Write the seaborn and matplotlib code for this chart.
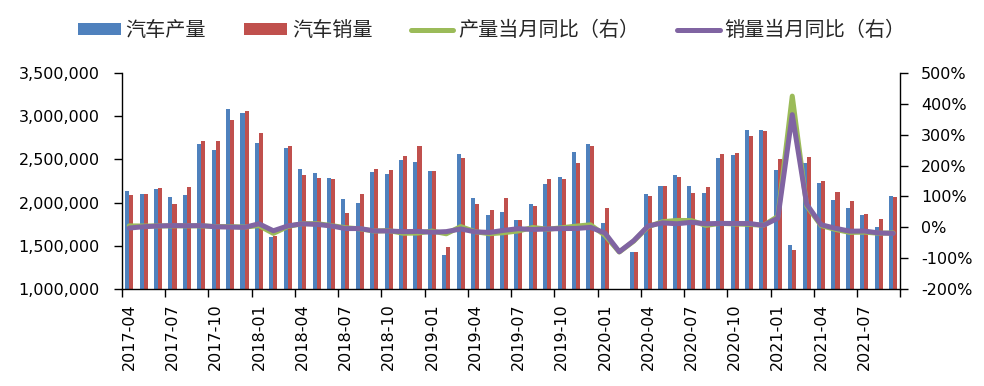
import numpy as np
import pandas as pd
import matplotlib
matplotlib.use('Agg')
import matplotlib.pyplot as plt
import seaborn as sns
from matplotlib.ticker import FuncFormatter
from matplotlib.patches import Patch
from matplotlib.lines import Line2D

# 月份 2017-04 ~ 2021-09
months = [str(p) for p in pd.period_range('2017-04', '2021-09', freq='M')]

# 汽车产量（辆）
production = [
    2138300, 2095900, 2154600, 2063700, 2093900, 2678900, 2605700, 3082900, 3038200,
    2694700, 1600000, 2626900, 2389100, 2344800, 2283300, 2038100, 1994200, 2357200, 2332300, 2491500, 2471700,
    2368100, 1394400, 2559900, 2052500, 1858600, 1890700, 1799000, 1988400, 2210500, 2301200, 2590700, 2676000,
    1761300, 285000, 1428200, 2102200, 2187100, 2324500, 2193200, 2114600, 2519700, 2556000, 2843000, 2842000,
    2383000, 1507000, 2456000, 2225000, 2027000, 1943000, 1857000, 1721000, 2077000,
]
# 汽车销量（辆）
sales = [
    2084200, 2096500, 2166400, 1978700, 2184800, 2712600, 2707500, 2958900, 3055800,
    2810300, 1610000, 2655600, 2318600, 2287600, 2274200, 1885500, 2100300, 2393800, 2380200, 2541000, 2656400,
    2365800, 1481300, 2519800, 1979400, 1913500, 2056100, 1801000, 1958000, 2271100, 2279300, 2459500, 2654600,
    1941100, 310000, 1430200, 2071900, 2191700, 2302400, 2115700, 2185800, 2565000, 2573000, 2767000, 2830000,
    2503000, 1455000, 2526000, 2252000, 2128000, 2015000, 1864000, 1806000, 2067000,
]
# 当月同比（%）
prod_yoy = [
    4.8, 4.3, 4.6, 4.8, 4.8, 4.8, 2.6, 2.4, 0.9,
    5.6, -19.6, 2.7, 11.9, 12.0, 6.0, -1.2, -4.8, -12.0, -10.5, -19.1, -18.6,
    -12.1, -20.8, 2.5, -14.1, -20.7, -17.2, -11.7, -0.3, -6.2, -1.3, 4.0, 8.3,
    -25.6, -79.8, -44.8, 2.3, 18.2, 22.5, 21.9, 6.3, 13.0, 11.0, 9.7, 6.5,
    35.3, 425.0, 69.9, 5.8, -6.8, -16.5, -15.5, -19.1, -17.9,
]
sales_yoy = [
    -2.2, 2.0, 4.5, 5.8, 5.3, 5.7, 1.8, 1.1, -0.1,
    11.6, -11.1, 4.7, 11.5, 9.6, 4.8, -4.0, -3.8, -11.6, -11.7, -13.9, -13.0,
    -15.8, -13.8, -5.2, -14.6, -16.4, -9.6, -4.3, -6.9, -5.2, -4.0, -3.6, -0.1,
    -18.0, -79.1, -43.3, 4.4, 14.5, 11.6, 16.4, 11.6, 12.8, 12.5, 12.6, 6.4,
    29.5, 365.0, 74.9, 8.6, -3.1, -12.4, -11.9, -18.1, -19.6,
]

bar_names = ['汽车产量', '汽车销量']
line_names = ['产量当月同比（右）', '销量当月同比（右）']
bar_colors = ['#4F81BD', '#C0504D']
line_colors = ['#9BBB59', '#8064A2']

n = len(months)
bar_df = pd.DataFrame({
    '月份': months * 2,
    '数量': production + sales,
    '系列': [bar_names[0]] * n + [bar_names[1]] * n,
})
line_df = pd.DataFrame({
    'pos': list(range(n)) * 2,
    '同比': prod_yoy + sales_yoy,
    '系列': [line_names[0]] * n + [line_names[1]] * n,
})

sns.set_style('white')
plt.rcParams['font.family'] = ['DejaVu Sans', 'Noto Sans CJK SC']

fig, ax = plt.subplots(figsize=(9.84, 3.86), dpi=100)
fig.subplots_adjust(left=0.124, right=0.915, top=0.811, bottom=0.251)

sns.barplot(data=bar_df, x='月份', y='数量', hue='系列', order=months,
            hue_order=bar_names, palette=bar_colors, width=0.56,
            saturation=1, errorbar=None, legend=False, linewidth=0, ax=ax)

ax2 = ax.twinx()
sns.lineplot(data=line_df, x='pos', y='同比', hue='系列', hue_order=line_names,
             palette=line_colors, linewidth=3.6, legend=False, sort=False, ax=ax2)
for ln in ax2.lines:
    ln.set_solid_joinstyle('round')
    ln.set_solid_capstyle('round')

# 左轴
ax.set_ylim(1_000_000, 3_500_000)
ax.set_yticks(np.arange(1_000_000, 3_500_001, 500_000))
ax.yaxis.set_major_formatter(FuncFormatter(lambda v, p: f'{v:,.0f}'))
ax.tick_params(axis='y', direction='out', length=6, width=1, pad=10,
               labelsize=11.5, colors='black', left=True)
# 右轴
ax2.set_ylim(-200, 500)
ax2.set_yticks(np.arange(-200, 501, 100))
ax2.yaxis.set_major_formatter(FuncFormatter(lambda v, p: f'{v:.0f}%'))
ax2.tick_params(axis='y', direction='out', length=6, width=1, pad=9,
                labelsize=11.5, colors='black', right=True)

# x 轴：每 3 个月一个标签，刻度线在分类边界
label_pos = list(range(0, n, 3))
ax.set_xticks(label_pos)
ax.set_xticklabels([months[i] for i in label_pos], rotation=90, fontsize=11.5)
ax.set_xticks([i - 0.5 for i in range(0, n + 1, 3)], minor=True)
ax.tick_params(axis='x', which='major', length=0, pad=10, colors='black')
ax.tick_params(axis='x', which='minor', direction='out', length=6, width=1,
               bottom=True, colors='black')
ax.set_xlim(-0.5, n - 0.5)

ax.set_xlabel('')
ax.set_ylabel('')
ax2.set_ylabel('')

for a in (ax, ax2):
    a.grid(False)
    a.spines['top'].set_visible(False)
    for s in a.spines.values():
        s.set_color('black')
        s.set_linewidth(1)
ax.spines['right'].set_visible(False)
ax2.spines['left'].set_visible(False)
ax2.spines['bottom'].set_visible(False)

handles = [Patch(facecolor=c, edgecolor='none') for c in bar_colors] + \
          [Line2D([0], [0], color=c, linewidth=3.6, solid_capstyle='round') for c in line_colors]
fig.legend(handles, bar_names + line_names, loc='center', bbox_to_anchor=(0.5, 0.92),
           ncol=4, frameon=False, handlelength=2.1, handleheight=0.55,
           handletextpad=0.25, columnspacing=1.9,
           prop={'family': ['Noto Sans CJK SC'], 'size': 14.5})

fig.savefig('out.png', dpi=100)
